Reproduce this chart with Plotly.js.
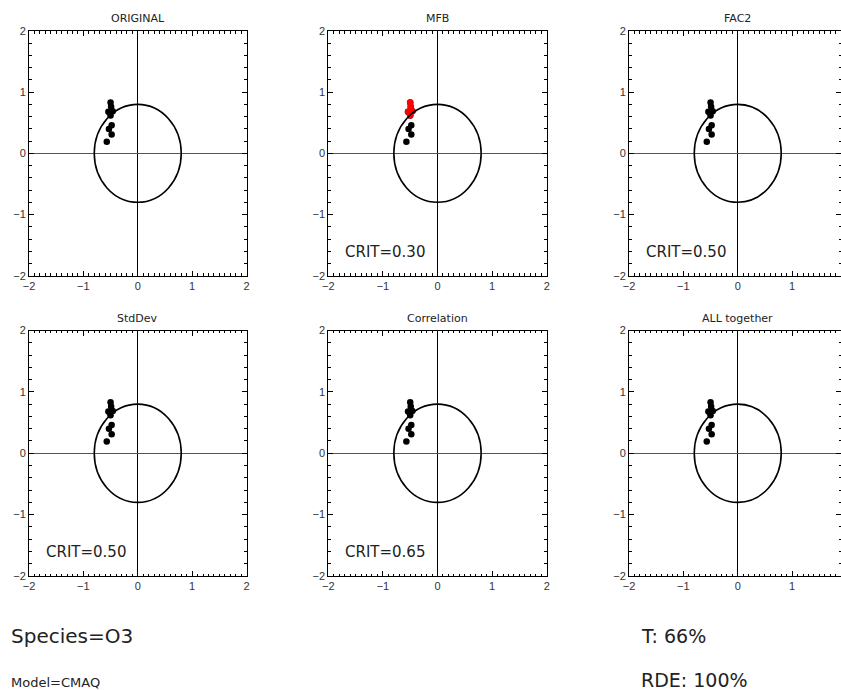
<!DOCTYPE html>
<html>
<head>
<meta charset="utf-8">
<script src="https://cdn.plot.ly/plotly-3.0.1.min.js"></script>
<style>html,body{margin:0;padding:0;background:#fff;}#chart{width:841px;height:690px;}</style>
</head>
<body>
<div id="chart"></div>
<script>
// ---- data ----
var panelTitles = ["ORIGINAL", "MFB", "FAC2", "StdDev", "Correlation", "ALL together"];
var critLabels = ["", "CRIT=0.30", "CRIT=0.50", "CRIT=0.50", "CRIT=0.65", ""];
var pointX = [-0.50, -0.49, -0.54, -0.46, -0.50, -0.48, -0.53, -0.48, -0.57, -0.51];
var pointY = [0.83, 0.76, 0.68, 0.69, 0.62, 0.46, 0.40, 0.31, 0.19, 0.66];
// points flagged as failing the MFB criterion (drawn red in MFB panel)
var mfbFlag = [1, 1, 1, 1, 1, 0, 0, 0, 0, 1];
var circleRadius = 0.8;
var tickVals = [-2, -1, 0, 1, 2];
var tickText = ["\u22122", "\u22121", "0", "1", "2"];
var speciesText = "Species=O3";
var modelText = "Model=CMAQ";
var tText = "T: 66%";
var rdeText = "RDE: 100%";

// ---- layout geometry (px) ----
var W = 841, H = 690;
var colX = [[29, 246.5], [328.3, 546.7], [629, 841]];
var rowY = [[31, 275.7], [330.5, 576]];
var unitPx = (246.5 - 29) / 4;
var xRanges = [[-2, 2], [-2, 2], [-2, -2 + (841 - 629) / unitPx]];

var font = "Liberation Sans, Arial, sans-serif";
var font2 = "DejaVu Sans, Liberation Sans, sans-serif";
var traces = [], layout = {
  width: W, height: H,
  margin: {l: 0, r: 0, t: 0, b: 0},
  paper_bgcolor: "#fff", plot_bgcolor: "#fff",
  showlegend: false,
  font: {family: font, size: 11, color: "#222"},
  annotations: [], shapes: []
};

for (var p = 0; p < 6; p++) {
  var r = Math.floor(p / 3), c = p % 3;
  var sfx = p === 0 ? "" : String(p + 1);
  var xa = "xaxis" + sfx, ya = "yaxis" + sfx;
  var xd = [colX[c][0] / W, colX[c][1] / W];
  var yd = [1 - rowY[r][1] / H, 1 - rowY[r][0] / H];
  layout[xa] = {
    domain: xd, range: xRanges[c], anchor: "y" + sfx,
    showgrid: false, zeroline: true, zerolinecolor: "#000", zerolinewidth: 1,
    showline: true, linecolor: "#000", linewidth: 1, mirror: "ticks",
    ticks: "inside", ticklen: 5, tickcolor: "#000", tickwidth: 1,
    tickvals: tickVals, ticktext: tickText,
    minor: {dtick: 0.1, ticks: "inside", ticklen: 2.5, tickcolor: "#000", showgrid: false},
    tickfont: {family: font, size: 11, color: "#333"}, fixedrange: true
  };
  layout[ya] = {
    domain: yd, range: [-2, 2], anchor: "x" + sfx,
    showgrid: false, zeroline: true, zerolinecolor: "#555", zerolinewidth: 1,
    showline: true, linecolor: "#000", linewidth: 1, mirror: "ticks",
    ticks: "inside", ticklen: 5, tickcolor: "#000", tickwidth: 1,
    tickvals: tickVals, ticktext: tickText,
    minor: {dtick: 0.2, ticks: "inside", ticklen: 2.5, tickcolor: "#000", showgrid: false},
    tickfont: {family: font, size: 11, color: "#333"}, fixedrange: true
  };
  // reference circle
  layout.shapes.push({type: "circle", xref: "x" + sfx, yref: "y" + sfx,
    x0: -circleRadius, x1: circleRadius, y0: -circleRadius, y1: circleRadius,
    line: {color: "#000", width: 1.6}});
  // points
  traces.push({type: "scatter", mode: "markers", x: pointX, y: pointY,
    xaxis: "x" + sfx, yaxis: "y" + sfx,
    marker: {color: "#000", size: 6.5, line: {width: 0}}, hoverinfo: "x+y"});
  if (p === 1) {
    var rx = [], ry = [];
    for (var i = 0; i < pointX.length; i++) if (mfbFlag[i]) { rx.push(pointX[i]); ry.push(pointY[i]); }
    traces.push({type: "scatter", mode: "markers", x: rx, y: ry,
      xaxis: "x" + sfx, yaxis: "y" + sfx,
      marker: {color: "#ff0000", size: 6.5, line: {width: 0}}, hoverinfo: "x+y"});
  }
  // panel title
  layout.annotations.push({text: panelTitles[p], xref: "paper", yref: "paper",
    x: (colX[c][0] + (c === 2 ? 737.7 - 629 : (colX[c][1] - colX[c][0]) / 2)) / W,
    y: 1 - (rowY[r][0] - 4) / H, xanchor: "center", yanchor: "bottom", showarrow: false,
    font: {family: font2, size: 11, color: "#222"}});
  if (critLabels[p]) {
    layout.annotations.push({text: critLabels[p], xref: "paper", yref: "paper",
      x: (colX[c][0] + 15) / W, y: 1 - (rowY[r][1] - 13) / H,
      xanchor: "left", yanchor: "bottom", showarrow: false,
      font: {family: font2, size: 15, color: "#222"}});
  }
}

var bottom = [
  [speciesText, 9, 636, 20], [modelText, 9, 682, 13],
  [tText, 639, 636, 19], [rdeText, 639, 680, 19]
];
bottom.forEach(function (b) {
  layout.annotations.push({text: b[0], xref: "paper", yref: "paper",
    x: b[1] / W, y: 1 - b[2] / H, xanchor: "left", yanchor: "middle", showarrow: false,
    font: {family: font2, size: b[3], color: "#222"}});
});

Plotly.newPlot("chart", traces, layout, {displayModeBar: false, staticPlot: true});
</script>
</body>
</html>
